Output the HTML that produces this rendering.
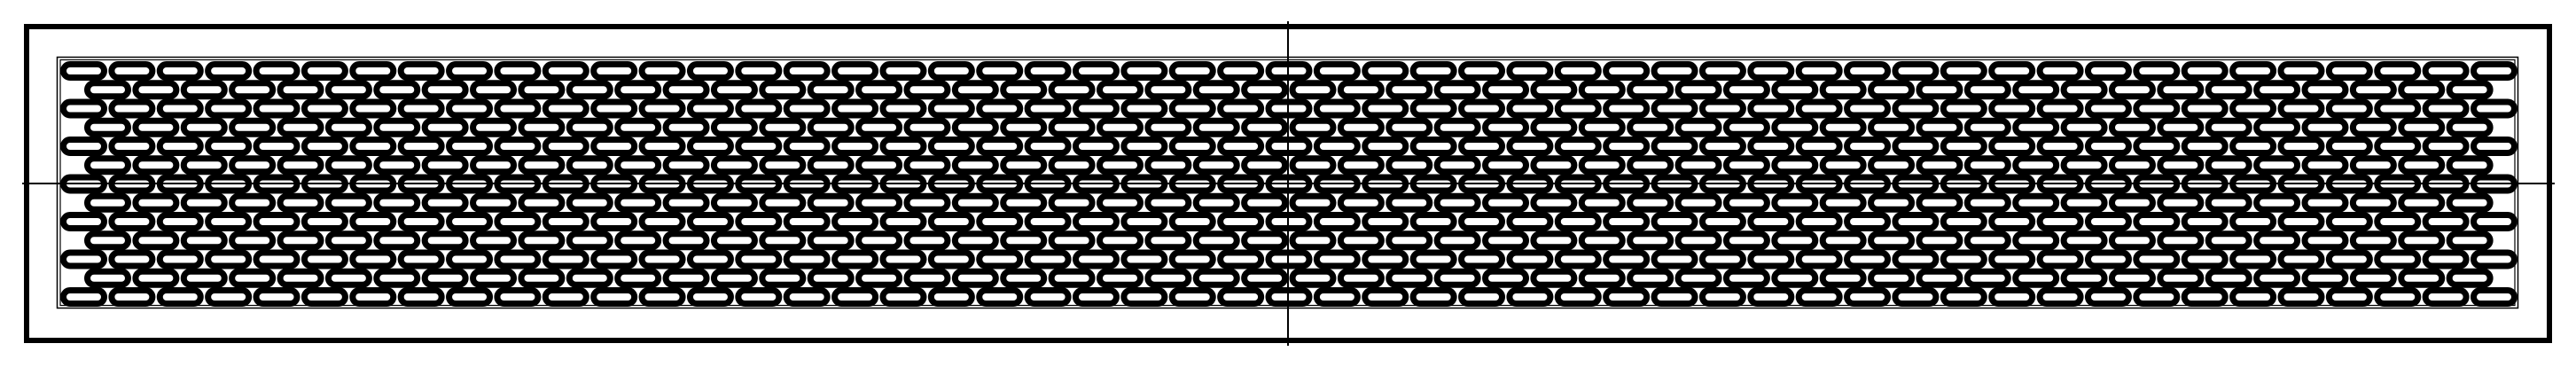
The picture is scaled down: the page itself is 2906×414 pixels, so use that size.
<!DOCTYPE html>
<html><head><meta charset="utf-8"><style>html,body{margin:0;padding:0;background:#fff}svg{display:block}</style></head>
<body>
<svg id="d" width="2906" height="414" viewBox="0 0 2906 414" xmlns="http://www.w3.org/2000/svg">
<rect x="30" y="30" width="2846" height="354" fill="none" stroke="#000" stroke-width="6"/>
<rect x="64.5" y="64.5" width="2776" height="283" fill="none" stroke="#000" stroke-width="1.5"/>
<rect x="68" y="67.5" width="2769" height="277" fill="none" stroke="#000" stroke-width="1.2"/>
<g id="slots"></g>
<line x1="25" y1="207" x2="2882" y2="207" stroke="#000" stroke-width="2"/>
<line x1="1453" y1="24" x2="1453" y2="390" stroke="#000" stroke-width="2"/>
</svg>
<script>
const rowCount = 13;
const aSlots = 51;
const bSlots = 50;
const g = document.getElementById('slots');
const NS = 'http://www.w3.org/2000/svg';
const pitch = 54.38, rowGap = 21.25, y0 = 80;
for (let r = 0; r < rowCount; r++) {
  const isA = r % 2 === 0;
  const n = isA ? aSlots : bSlots;
  const x0 = isA ? 68 : 95;
  const cy = y0 + r * rowGap;
  for (let i = 0; i < n; i++) {
    const el = document.createElementNS(NS, 'rect');
    
    
    el.setAttribute('x', x0 + i * pitch + 3.5);
    el.setAttribute('y', cy - 7.5);
    el.setAttribute('width', 46);
    el.setAttribute('height', 15);
    el.setAttribute('rx', 7.5);
    el.setAttribute('fill', '#fff');
    el.setAttribute('stroke', '#000');
    el.setAttribute('stroke-width', 7);
    g.appendChild(el);
  }
}
</script>
</body></html>
